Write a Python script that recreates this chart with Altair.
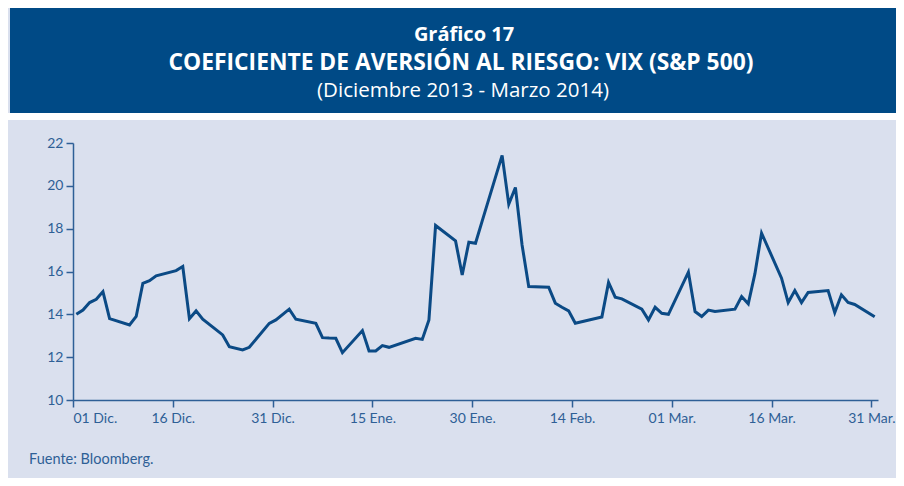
import altair as alt
import pandas as pd

# ---- data ----
dates = [
    "2013-12-01", "2013-12-02", "2013-12-03", "2013-12-04", "2013-12-05", "2013-12-06",
    "2013-12-09", "2013-12-10", "2013-12-11", "2013-12-12", "2013-12-13",
    "2013-12-16", "2013-12-17", "2013-12-18", "2013-12-19", "2013-12-20",
    "2013-12-23", "2013-12-24", "2013-12-26", "2013-12-27",
    "2013-12-30", "2013-12-31", "2014-01-02", "2014-01-03",
    "2014-01-06", "2014-01-07", "2014-01-08", "2014-01-09", "2014-01-10",
    "2014-01-13", "2014-01-14", "2014-01-15", "2014-01-16", "2014-01-17",
    "2014-01-21", "2014-01-22", "2014-01-23", "2014-01-24",
    "2014-01-27", "2014-01-28", "2014-01-29", "2014-01-30", "2014-01-31",
    "2014-02-03", "2014-02-04", "2014-02-05", "2014-02-06", "2014-02-07",
    "2014-02-10", "2014-02-11", "2014-02-12", "2014-02-13", "2014-02-14",
    "2014-02-18", "2014-02-19", "2014-02-20", "2014-02-21",
    "2014-02-24", "2014-02-25", "2014-02-26", "2014-02-27", "2014-02-28",
    "2014-03-03", "2014-03-04", "2014-03-05", "2014-03-06", "2014-03-07",
    "2014-03-10", "2014-03-11", "2014-03-12", "2014-03-13", "2014-03-14",
    "2014-03-17", "2014-03-18", "2014-03-19", "2014-03-20", "2014-03-21",
    "2014-03-24", "2014-03-25", "2014-03-26", "2014-03-27", "2014-03-28",
    "2014-03-31",
]
vix = [
    14.00, 14.20, 14.55, 14.70, 15.06, 13.80,
    13.50, 13.90, 15.45, 15.57, 15.80,
    16.04, 16.23, 13.80, 14.16, 13.77,
    13.04, 12.49, 12.34, 12.46,
    13.58, 13.74, 14.24, 13.77,
    13.58, 12.91, 12.89, 12.88, 12.21,
    13.24, 12.29, 12.29, 12.54, 12.46,
    12.88, 12.83, 13.74, 18.15,
    17.43, 15.84, 17.37, 17.32, 18.35,
    21.42, 19.14, 19.92, 17.24, 15.30,
    15.27, 14.52, 14.33, 14.16, 13.58,
    13.88, 15.49, 14.80, 14.72,
    14.24, 13.74, 14.33, 14.05, 14.00,
    15.97, 14.13, 13.90, 14.20, 14.13,
    14.24, 14.83, 14.49, 15.90, 17.79,
    15.69, 14.55, 15.11, 14.55, 15.02,
    15.11, 14.08, 14.91, 14.55, 14.46,
    13.89,
]
tick_dates = ["2013-12-01", "2013-12-16", "2013-12-31", "2014-01-15", "2014-01-30",
              "2014-02-14", "2014-03-01", "2014-03-16", "2014-03-31"]
tick_labels = ["01 Dic.", "16 Dic.", "31 Dic.", "15 Ene.", "30 Ene.",
               "14 Feb.", "01 Mar.", "16 Mar.", "31 Mar."]
y_ticks = [10, 12, 14, 16, 18, 20, 22]

title_1 = "Gráfico 17"
title_2 = "COEFICIENTE DE AVERSIÓN AL RIESGO: VIX (S&P 500)"
title_3 = "(Diciembre 2013 - Marzo 2014)"
source = "Fuente: Bloomberg."

# ---- styling ----
HEADER = "#004A86"
PANEL = "#DAE0EE"
LINE = "#0B4A85"
AXIS = "#2E5F96"
FONT = "Lato"
TFONT = "Open Sans"

df = pd.DataFrame({"fecha": dates, "vix": vix})


def dt(s):
    y, m, d = (int(p) for p in s.split("-"))
    return alt.DateTime(year=y, month=m, date=d, utc=True)


tick_ms = [int(pd.Timestamp(s, tz="UTC").value // 10**6) for s in tick_dates]
label_expr = "[" + ",".join("'" + t + "'" for t in tick_labels) + "][indexof([" + \
    ",".join(str(v) for v in tick_ms) + "], time(datum.value))]"

one = pd.DataFrame({"k": [0]})

header = alt.Chart(one).mark_rect(color=HEADER).encode(
    x=alt.value(-63), x2=alt.value(840), y=alt.value(-136), y2=alt.value(-30)
)
gap = alt.Chart(one).mark_rect(color="white").encode(
    x=alt.value(-80), x2=alt.value(840), y=alt.value(-30), y2=alt.value(-23)
)
t1 = alt.Chart(one).mark_text(text=title_1, font=TFONT, fontSize=20, fontWeight="bold",
                              color="white", align="center", baseline="middle").encode(
    x=alt.value(391), y=alt.value(-108))
t2 = alt.Chart(one).mark_text(text=title_2, font=TFONT, fontSize=22.8, fontWeight="bold",
                              color="white", align="center", baseline="middle").encode(
    x=alt.value(388), y=alt.value(-80))
t3 = alt.Chart(one).mark_text(text=title_3, font=TFONT, fontSize=20.5,
                              color="white", align="center", baseline="middle").encode(
    x=alt.value(390), y=alt.value(-52))
src = alt.Chart(one).mark_text(text=source, font=FONT, fontSize=14.5,
                               color=AXIS, align="left", baseline="middle").encode(
    x=alt.value(-44), y=alt.value(317))

line = alt.Chart(df).mark_line(color=LINE, strokeWidth=3, strokeJoin="miter").encode(
    x=alt.X("fecha:T", timeUnit="utcyearmonthdate", bandPosition=0.5,
            scale=alt.Scale(type="utc", domain=[dt("2013-12-01"), dt("2014-04-01")]),
            axis=alt.Axis(values=[dt(s) for s in tick_dates], labelExpr=label_expr,
                          title=None, grid=False, tickSize=7, labelPadding=4,
                          zindex=1)),
    y=alt.Y("vix:Q", scale=alt.Scale(domain=[10, 22], nice=False, zero=False),
            axis=alt.Axis(values=y_ticks, title=None, grid=False, tickSize=7,
                          labelPadding=3, zindex=1)),
)

chart = alt.layer(gap, header, t1, t2, t3, src, line).properties(
    width=805, height=257,
    autosize=alt.AutoSizeParams(type="none"),
    padding={"left": 65, "top": 135, "right": 18, "bottom": 78},
    background=PANEL,
).configure_view(stroke=None).configure_axis(
    domainColor=AXIS, domainWidth=1.5, tickColor=AXIS, tickWidth=1.5,
    labelColor=AXIS, labelFont=FONT, labelFontSize=14,
)

chart.save("out.html", embed_options={"renderer": "svg", "actions": False})
